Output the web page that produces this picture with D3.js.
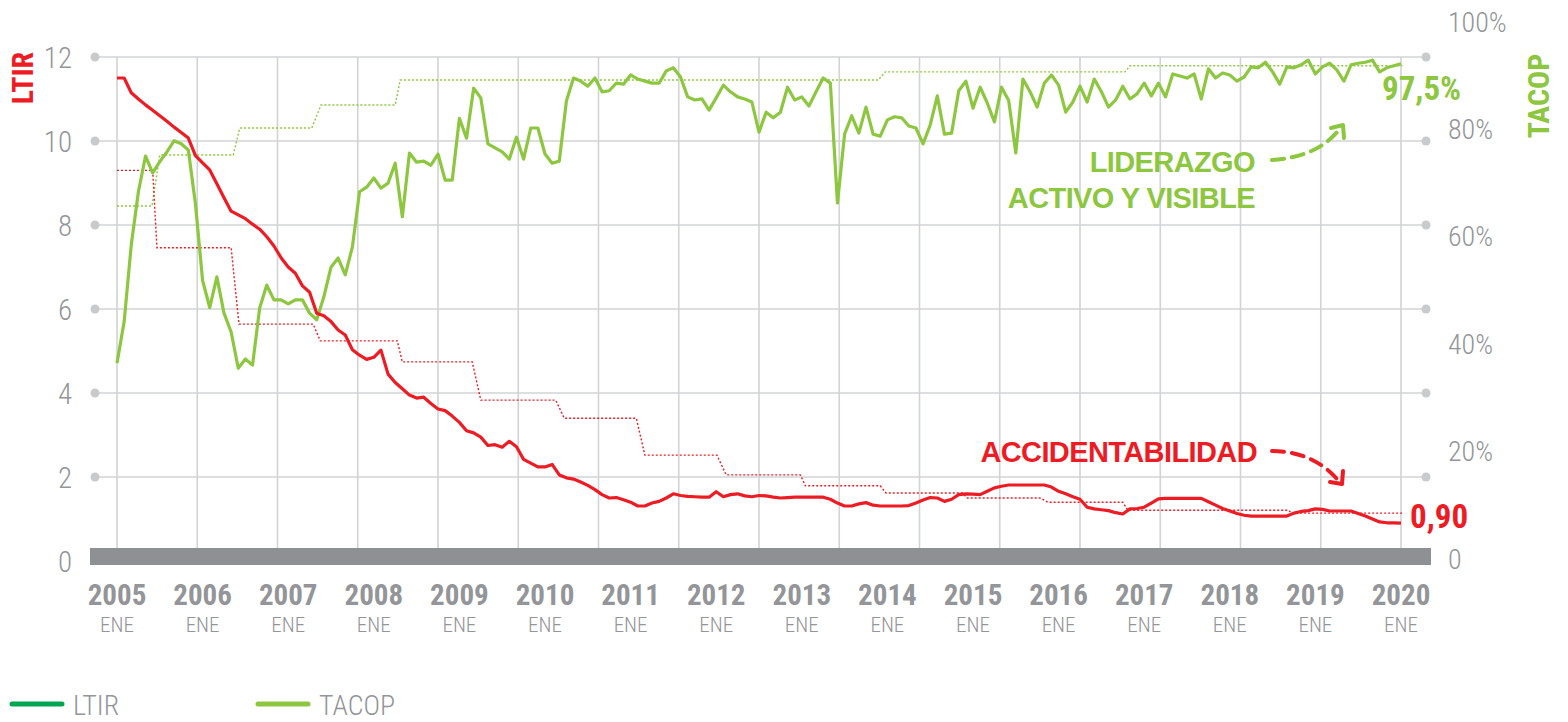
<!DOCTYPE html>
<html lang="es">
<head>
<meta charset="utf-8">
<title>LTIR y TACOP 2005–2020</title>
<script src="https://cdn.jsdelivr.net/npm/d3@7/dist/d3.min.js"></script>
<style>
  html, body { margin: 0; padding: 0; background: #ffffff; }
  svg { display: block; }
</style>
</head>
<body>
<svg id="chart" width="1568" height="722"></svg>
<script>
// ---- Data --------------------------------------------------------------
// Monthly series, January 2005 (index 0) to January 2020 (index 180)
const yearLabels = ["2005","2006","2007","2008","2009","2010","2011","2012","2013","2014","2015","2016","2017","2018","2019","2020"];
const monthTag = "ENE";
const ltirTicks = [0, 2, 4, 6, 8, 10, 12];
const tacopTicks = [0, 20, 40, 60, 80, 100];

// LTIR (left axis)
const ltir = [
  11.5, 11.5, 11.15, 11.0, 10.86, 10.73, 10.6, 10.47, 10.33, 10.2, 10.07, 9.65,
  9.48, 9.31, 8.98, 8.65, 8.33, 8.24, 8.15, 8.02, 7.9, 7.72, 7.5, 7.22,
  7.0, 6.85, 6.55, 6.4, 5.9, 5.84, 5.7, 5.5, 5.38, 5.03, 4.9, 4.8,
  4.85, 5.02, 4.45, 4.25, 4.1, 3.95, 3.88, 3.9, 3.75, 3.62, 3.58, 3.45,
  3.3, 3.1, 3.05, 2.95, 2.75, 2.77, 2.71, 2.85, 2.72, 2.42, 2.33, 2.24,
  2.24, 2.3, 2.05, 1.98, 1.95, 1.88, 1.8, 1.7, 1.58, 1.5, 1.51, 1.46,
  1.4, 1.31, 1.31, 1.38, 1.42, 1.5, 1.6, 1.56, 1.54, 1.53, 1.52, 1.52,
  1.65, 1.53, 1.58, 1.6, 1.55, 1.53, 1.56, 1.55, 1.52, 1.5, 1.51, 1.52,
  1.52, 1.52, 1.52, 1.52, 1.47, 1.38, 1.31, 1.31, 1.36, 1.39, 1.33, 1.31,
  1.31, 1.31, 1.31, 1.32, 1.38, 1.45, 1.51, 1.5, 1.42, 1.47, 1.58, 1.6,
  1.59, 1.58, 1.66, 1.74, 1.78, 1.81, 1.81, 1.81, 1.81, 1.81, 1.81, 1.76,
  1.66, 1.6, 1.53, 1.47, 1.28, 1.24, 1.22, 1.2, 1.15, 1.12, 1.24, 1.25,
  1.28, 1.38, 1.48, 1.49, 1.49, 1.49, 1.49, 1.49, 1.49, 1.41, 1.33, 1.25,
  1.19, 1.13, 1.09, 1.07, 1.07, 1.07, 1.07, 1.07, 1.07, 1.14, 1.18, 1.2,
  1.24, 1.23, 1.19, 1.19, 1.19, 1.19, 1.13, 1.07, 1.0, 0.93, 0.91, 0.91,
  0.90
];

// TACOP, % (right axis)
const tacop = [
  38.8, 46.9, 62, 72.4, 79.4, 76.1, 78.3, 80.2, 82.4, 81.8, 80.6, 70,
  55, 49.7, 55.7, 48.6, 44.9, 37.8, 39.6, 38.4, 49.6, 54.1, 51.2, 51.2,
  50.4, 51.2, 51.2, 48.6, 47.3, 51.8, 57.6, 59.4, 56.1, 61.6, 72.4, 73.3,
  75.1, 73.1, 74.1, 78, 67.5, 80, 78.2, 78.4, 77.6, 79.8, 74.7, 74.7,
  86.8, 82.9, 92.7, 90.8, 81.8, 81, 80.2, 78.8, 83.1, 78.8, 84.9, 84.9,
  79.8, 78, 78.4, 90.2, 94.7, 94.1, 93.1, 94.7, 92, 92.2, 93.7, 93.5,
  95.3, 94.5, 94.1, 93.7, 93.7, 96.1, 96.7, 94.9, 91, 90.4, 90.6, 88.4,
  90.8, 93.3, 92, 91, 90.6, 90, 84.1, 88, 86.9, 88, 92.9, 90.4,
  91, 89.2, 92, 94.7, 93.7, 70.2, 83.7, 87.3, 83.9, 89, 83.7, 83.3,
  86.5, 87.1, 86.9, 85.3, 84.9, 81.8, 85.5, 91.2, 83.7, 83.9, 92.2, 94.1,
  88.8, 92.9, 89.8, 86.1, 92.9, 90.3, 80, 94.5, 92, 89, 93.7, 95.3,
  93.3, 88, 90, 93.1, 90, 94.5, 92, 89, 90.4, 93.1, 90.6, 91.6,
  93.7, 91.2, 93.7, 91, 95.5, 95.1, 94.7, 95.5, 90.6, 96.5, 94.7, 95.7,
  95.3, 94.1, 94.9, 96.9, 96.7, 97.8, 95.9, 93.5, 96.9, 96.7, 97.3, 98.2,
  95.5, 96.9, 97.6, 96.3, 94.1, 97.3, 97.6, 97.8, 98.2, 95.9, 96.7, 97.1,
  97.5
];

// Yearly targets (dotted steps): start month, end month, value
const ltirTargetStart = [0, 5.6, 17.1, 28.5, 40.0, 51.0, 62.7, 74.0, 85.4, 96.5, 107.8, 119.2, 130.5, 141.7, 164.7];
const ltirTargetEnd   = [5.0, 16.0, 27.5, 39.3, 49.8, 61.5, 72.8, 84.1, 95.8, 107.0, 118.5, 129.4, 141.0, 164.2, 180.2];
const ltirTarget      = [9.3, 7.46, 5.64, 5.24, 4.74, 3.83, 3.40, 2.52, 2.05, 1.79, 1.62, 1.50, 1.40, 1.21, 1.14];

const tacopTargetStart = [0, 6.0, 17.2, 28.6, 39.7, 107.7, 142.0];
const tacopTargetEnd   = [4.9, 16.3, 27.3, 39.0, 106.7, 141.3, 180.2];
const tacopTarget      = [69.6, 79.6, 84.9, 89.4, 94.3, 95.9, 97.1];

// ---- Styles --------------------------------------------------------------
const RED = "#ed1c24";
const GREEN = "#8dc63f";
const DARK_GREEN = "#00a651";
const GREY_TXT = "#939598";
const GRID = "#d1d3d4";
const BAR = "#8f9094";
const NARROW = "'Roboto Condensed','Liberation Sans Narrow','Arial Narrow','DejaVu Sans Condensed',sans-serif";
const SANS = "'Liberation Sans', Arial, Helvetica, sans-serif";

// ---- Scales --------------------------------------------------------------
const x = d3.scaleLinear().domain([0, 180]).range([117, 1401]);
const yL = d3.scaleLinear().domain([0, 12]).range([561, 57]);
const yR = d3.scaleLinear().domain([0, 100]).range([561, 51]);
const yRLabel = d3.scaleLinear().domain([0, 100]).range([559, 22]);
const gridCol = d3.scaleLinear().domain([0, 16]).range(x.range());

const svg = d3.select("#chart");

// ---- Grid --------------------------------------------------------------
const grid = svg.append("g");
grid.selectAll("line.v")
  .data(d3.range(17))
  .join("line")
  .attr("class", "v")
  .attr("x1", d => gridCol(d)).attr("x2", d => gridCol(d))
  .attr("y1", yL(12)).attr("y2", yL(0) - 10)
  .attr("stroke", GRID).attr("stroke-width", 1.6);

const hTicks = ltirTicks.filter(d => d > 0);
grid.selectAll("line.h")
  .data(hTicks)
  .join("line")
  .attr("class", "h")
  .attr("x1", 96).attr("x2", 1425)
  .attr("y1", d => yL(d)).attr("y2", d => yL(d))
  .attr("stroke", GRID).attr("stroke-width", 1.6);
grid.selectAll("circle.l")
  .data(hTicks)
  .join("circle")
  .attr("class", "l")
  .attr("cx", 95).attr("cy", d => yL(d)).attr("r", 4.5)
  .attr("fill", "#c9cacc");
grid.selectAll("circle.r")
  .data(hTicks)
  .join("circle")
  .attr("class", "r")
  .attr("cx", 1426).attr("cy", d => yL(d)).attr("r", 4.5)
  .attr("fill", "#c9cacc");

// baseline bar
svg.append("rect")
  .attr("x", 90).attr("width", 1341)
  .attr("y", yL(0) - 13).attr("height", 17)
  .attr("fill", BAR);

// ---- Axes labels -----------------------------------------------------------
svg.append("g").selectAll("text")
  .data(ltirTicks)
  .join("text")
  .attr("x", 72).attr("y", d => yL(d) + 1)
  .attr("text-anchor", "end").attr("dominant-baseline", "central")
  .attr("font-family", NARROW).attr("font-size", 29).attr("font-weight", 300)
  .attr("fill", GREY_TXT)
  .text(d => d);

svg.append("g").selectAll("text")
  .data(tacopTicks)
  .join("text")
  .attr("x", 1448).attr("y", d => yRLabel(d))
  .attr("dominant-baseline", "central")
  .attr("font-family", NARROW).attr("font-size", 28).attr("font-weight", 300)
  .attr("fill", GREY_TXT)
  .text(d => d === 0 ? "0" : d + "%");

svg.append("g").selectAll("text")
  .data(yearLabels)
  .join("text")
  .attr("x", (d, i) => x(i * 12)).attr("y", 605)
  .attr("text-anchor", "middle")
  .attr("font-family", NARROW).attr("font-size", 29).attr("font-weight", 700)
  .attr("fill", GREY_TXT)
  .text(d => d);

svg.append("g").selectAll("text")
  .data(yearLabels)
  .join("text")
  .attr("x", (d, i) => x(i * 12)).attr("y", 632)
  .attr("text-anchor", "middle")
  .attr("font-family", NARROW).attr("font-size", 21).attr("font-weight", 300)
  .attr("fill", GREY_TXT)
  .text(monthTag);

svg.append("text")
  .attr("transform", "translate(33,78) rotate(-90)")
  .attr("text-anchor", "middle")
  .attr("font-family", NARROW).attr("font-size", 30).attr("font-weight", 700)
  .attr("fill", RED)
  .text("LTIR");

svg.append("text")
  .attr("transform", "translate(1549,96) rotate(-90)")
  .attr("text-anchor", "middle")
  .attr("font-family", NARROW).attr("font-size", 30).attr("font-weight", 700)
  .attr("fill", GREEN)
  .text("TACOP");

// ---- Target step lines -------------------------------------------------------
function stepPoints(starts, ends, vals) {
  return vals.flatMap((v, i) => [[starts[i], v], [ends[i], v]]);
}
svg.append("path")
  .datum(stepPoints(tacopTargetStart, tacopTargetEnd, tacopTarget))
  .attr("fill", "none").attr("stroke", GREEN).attr("stroke-width", 1.4)
  .attr("stroke-dasharray", "2 2")
  .attr("d", d3.line().x(d => x(d[0])).y(d => yR(d[1])));
svg.append("path")
  .datum(stepPoints(ltirTargetStart, ltirTargetEnd, ltirTarget))
  .attr("fill", "none").attr("stroke", RED).attr("stroke-width", 1.4)
  .attr("stroke-dasharray", "2 2")
  .attr("d", d3.line().x(d => x(d[0])).y(d => yL(d[1])));

// ---- Series -------------------------------------------------------------------
svg.append("path")
  .datum(tacop)
  .attr("fill", "none").attr("stroke", GREEN).attr("stroke-width", 3.2)
  .attr("stroke-linejoin", "round")
  .attr("d", d3.line().x((d, i) => x(i)).y(d => yR(d)));
svg.append("path")
  .datum(ltir)
  .attr("fill", "none").attr("stroke", RED).attr("stroke-width", 3.2)
  .attr("stroke-linejoin", "round")
  .attr("d", d3.line().x((d, i) => x(i)).y(d => yL(d)));

// ---- End values -----------------------------------------------------------------
const last = ltir.length - 1;
svg.append("text")
  .attr("x", x(last) + 9).attr("y", yL(ltir[last]) + 5)
  .attr("font-family", NARROW).attr("font-size", 33).attr("font-weight", 700)
  .attr("fill", RED)
  .text(d3.format(".2f")(ltir[last]).replace(".", ","));
svg.append("text")
  .attr("x", x(last) - 19).attr("y", yR(tacop[last]) + 36)
  .attr("font-family", NARROW).attr("font-size", 33).attr("font-weight", 700)
  .attr("fill", GREEN)
  .text(String(tacop[last]).replace(".", ",") + "%");

// ---- Annotations --------------------------------------------------------------
const note = svg.append("g").attr("font-family", SANS).attr("font-weight", 700)
  .attr("font-size", 29).attr("letter-spacing", -0.6).attr("text-anchor", "end");
note.append("text").attr("x", 1255).attr("y", 172).attr("fill", GREEN).text("LIDERAZGO");
note.append("text").attr("x", 1255).attr("y", 208).attr("fill", GREEN).text("ACTIVO Y VISIBLE");
note.append("text").attr("x", 1257).attr("y", 462).attr("fill", RED).text("ACCIDENTABILIDAD");

const arrows = svg.append("g").attr("fill", "none").attr("stroke-width", 4)
  .attr("stroke-linecap", "round").attr("stroke-linejoin", "round");
arrows.append("path").attr("stroke", GREEN).attr("stroke-dasharray", "12 8")
  .attr("d", "M1272,160 C1300,158 1322,150 1338,131");
arrows.append("path").attr("stroke", GREEN)
  .attr("d", "M1331,128 L1343,125 L1344,138");
arrows.append("path").attr("stroke", RED).attr("stroke-dasharray", "12 8")
  .attr("d", "M1272,451 C1300,451 1322,462 1337,479");
arrows.append("path").attr("stroke", RED)
  .attr("d", "M1343,471 L1342,484 L1330,482");

// ---- Legend --------------------------------------------------------------------
const legend = svg.append("g");
const legendItems = [["LTIR", DARK_GREEN, 12], ["TACOP", GREEN, 258]];
legendItems.forEach(([name, color, lx]) => {
  legend.append("line")
    .attr("x1", lx).attr("x2", lx + 50).attr("y1", 704).attr("y2", 704)
    .attr("stroke", color).attr("stroke-width", 5).attr("stroke-linecap", "round");
  legend.append("text")
    .attr("x", lx + 61).attr("y", 715)
    .attr("font-family", NARROW).attr("font-size", 28).attr("font-weight", 300)
    .attr("fill", GREY_TXT)
    .text(name);
});
</script>
</body>
</html>
